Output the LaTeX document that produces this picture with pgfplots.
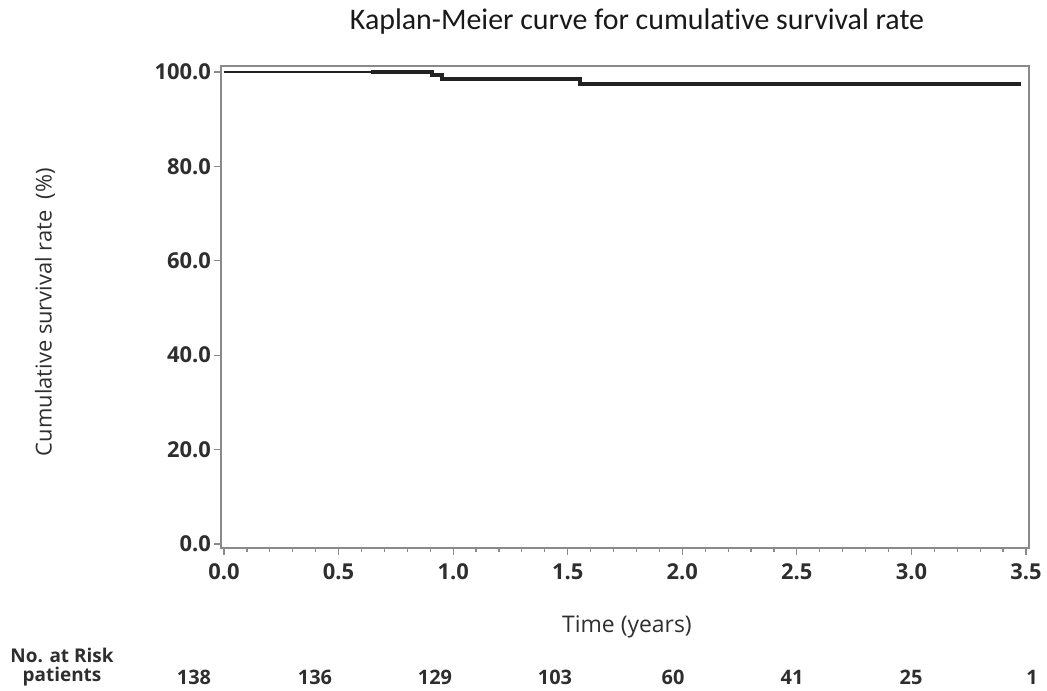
\documentclass[border=0pt]{standalone}
\usepackage{fontspec}
\usepackage{pgfplots}
\pgfplotsset{compat=1.18}
\setmainfont{Open Sans}
\newfontfamily\titlefont{Carlito}[Ligatures={NoCommon}]
\newcommand{\tickfont}{\bfseries}
\definecolor{kmline}{HTML}{222222}
\definecolor{boxgray}{HTML}{8A8A8A}
\definecolor{ticktext}{HTML}{2E2E2E}

\begin{document}
\begin{tikzpicture}
\useasboundingbox (-110.5bp,-71.5bp) rectangle (413bp,274bp);
\begin{axis}[
  scale only axis,
  width=404bp, height=241bp,
  xmin=-0.0131, xmax=3.5131,
  ymin=-0.847, ymax=101.27,
  xtick={0,0.5,...,3.5},
  ytick={0,20,...,100},
  minor x tick num=4,
  tick align=outside,
  xtick pos=bottom, ytick pos=left,
  major tick length=3.5bp, minor tick length=2bp,
  tick style={color=boxgray, line width=0.6bp},
  axis line style={draw=boxgray, line width=0.6bp},
  /pgf/number format/fixed,
  /pgf/number format/fixed zerofill,
  /pgf/number format/precision=1,
  /pgf/number format/assume math mode=true,
  tick label style={font=\tickfont\fontsize{11}{13}\selectfont, text=ticktext},
  xticklabel style={yshift=-1bp},
  yticklabel style={xshift=2bp},
]
% thin part of the curve
\addplot[kmline, line width=0.9bp, const plot] coordinates
  {(0,100) (0.907,99.36) (0.950,98.5) (1.554,97.46) (3.48,97.46)};
% thick part, where censoring ticks overlap
\addplot[kmline, line width=2bp, const plot] coordinates
  {(0.64,100) (0.907,99.36) (0.950,98.5) (1.554,97.46) (3.48,97.46)};
\end{axis}
\node[font=\titlefont\fontsize{15}{17}\selectfont, text=black!90] at (208bp,263bp)
  {Kaplan-Meier curve for cumulative survival rate};
\node[font=\fontsize{11}{13}\selectfont, text=ticktext, rotate=90] at (-88bp,118bp)
  {Cumulative survival rate\ \ (\%)};
\node[font=\fontsize{11.5}{13}\selectfont, text=ticktext] at (203bp,-39.5bp) {Time (years)};
\node[font=\tickfont\fontsize{9.5}{12}\selectfont, text=ticktext] at (-79.5bp,-53.5bp) {No. at Risk};
\node[font=\tickfont\fontsize{9.5}{12}\selectfont, text=ticktext] at (-79.5bp,-64.5bp) {patients};
\foreach \x/\n in {-13.5/138, 47/136, 107/129, 167/103, 226/60, 285.5/41, 345/25, 405.5/1}
  \node[font=\tickfont\fontsize{10}{12}\selectfont, text=ticktext] at (\x bp,-64.5bp) {\n};
\end{tikzpicture}
\end{document}
